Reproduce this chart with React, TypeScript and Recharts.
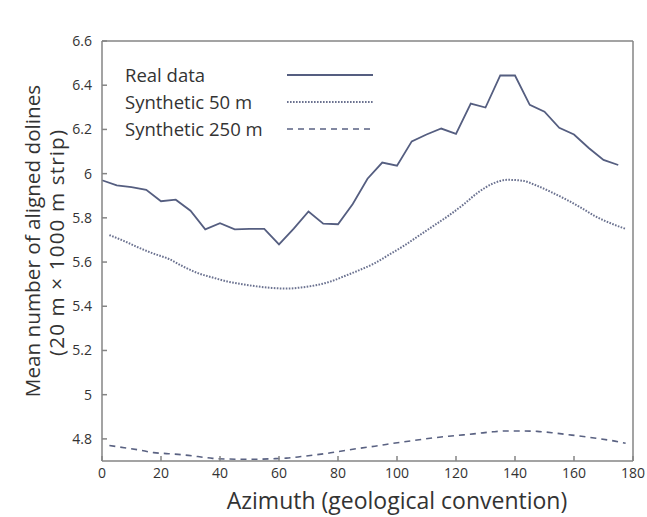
import { Legend, Line, LineChart, XAxis, YAxis } from "recharts";

const realAzimuth = [0, 5, 10, 15, 20, 25, 30, 35, 40, 45, 50, 55, 60, 65, 70, 75, 80, 85, 90, 95, 100, 105, 110, 115, 120, 125, 130, 135, 140, 145, 150, 155, 160, 165, 170, 175];
const realValues = [5.97, 5.947, 5.939, 5.927, 5.875, 5.882, 5.832, 5.748, 5.776, 5.748, 5.75, 5.75, 5.68, 5.751, 5.829, 5.774, 5.771, 5.863, 5.977, 6.05, 6.036, 6.146, 6.177, 6.204, 6.18, 6.317, 6.299, 6.444, 6.444, 6.311, 6.28, 6.207, 6.177, 6.116, 6.062, 6.039];

const synthAzimuth = [2.5, 7.5, 12.5, 17.5, 22.5, 27.5, 32.5, 37.5, 42.5, 47.5, 52.5, 57.5, 62.5, 67.5, 72.5, 77.5, 82.5, 87.5, 92.5, 97.5, 102.5, 107.5, 112.5, 117.5, 122.5, 127.5, 132.5, 137.5, 142.5, 147.5, 152.5, 157.5, 162.5, 167.5, 172.5, 177.5];
const synth50Values = [5.722, 5.695, 5.665, 5.638, 5.615, 5.58, 5.55, 5.53, 5.512, 5.5, 5.49, 5.483, 5.48, 5.485, 5.495, 5.512, 5.538, 5.565, 5.595, 5.635, 5.675, 5.72, 5.765, 5.81, 5.86, 5.915, 5.955, 5.972, 5.968, 5.945, 5.915, 5.882, 5.845, 5.805, 5.775, 5.75];
const synth250Values = [4.77, 4.76, 4.75, 4.738, 4.733, 4.728, 4.72, 4.712, 4.709, 4.708, 4.708, 4.71, 4.713, 4.72, 4.728, 4.737, 4.748, 4.758, 4.767, 4.778, 4.787, 4.796, 4.805, 4.812, 4.818, 4.825, 4.832, 4.836, 4.836, 4.834, 4.828, 4.82, 4.812, 4.803, 4.793, 4.78];

const xTicks = [0, 20, 40, 60, 80, 100, 120, 140, 160, 180];
const yTicks = [4.8, 5, 5.2, 5.4, 5.6, 5.8, 6, 6.2, 6.4, 6.6];

const series = [
  { name: "Real data", color: "#555e80", dash: undefined, width: 1.8 },
  { name: "Synthetic 50 m", color: "#6b7290", dash: "1.6 1.4", width: 2 },
  { name: "Synthetic 250 m", color: "#5a6282", dash: "6 5", width: 1.6 },
];

const realData = realAzimuth.map((az, i) => ({ az, v: realValues[i] }));
const synth50Data = synthAzimuth.map((az, i) => ({ az, v: synth50Values[i] }));
const synth250Data = synthAzimuth.map((az, i) => ({ az, v: synth250Values[i] }));

const frame = "#858585";
const ink = "#333";
const font = "'Open Sans', sans-serif";

function LegendBox() {
  return (
    <div style={{ fontFamily: font, fontSize: 18.5, color: ink }}>
      {series.map((s) => (
        <div key={s.name} style={{ display: "flex", alignItems: "center", height: 27 }}>
          <span style={{ width: 162, whiteSpace: "nowrap" }}>{s.name}</span>
          <svg width={86} height={6}>
            <line x1={0} x2={86} y1={3} y2={3} stroke={s.color} strokeWidth={s.width} strokeDasharray={s.dash} />
          </svg>
        </div>
      ))}
    </div>
  );
}

function YTitle() {
  return (
    <g fill={ink} fontFamily={font} fontSize={20.7}>
      <text x={32} y={241} transform="rotate(-90, 32, 241)" textAnchor="middle" dominantBaseline="central">
        Mean number of aligned dolines
      </text>
      <text
        x={56}
        y={243}
        transform="rotate(-90, 56, 243)"
        textAnchor="middle"
        dominantBaseline="central"
        textLength={226}
        lengthAdjust="spacing"
      >
        (20 m × 1000 m strip)
      </text>
    </g>
  );
}

function XTitle() {
  return (
    <text x={397} y={509} textAnchor="middle" fill={ink} fontFamily={font} fontSize={23}>
      Azimuth (geological convention)
    </text>
  );
}

export default function App() {
  return (
    <div style={{ position: "absolute", left: 0, top: 0, background: "#fff" }}>
      <LineChart width={647} height={517} margin={{ top: 40, right: 13, bottom: 0, left: 0 }} style={{ fontFamily: font }}>
        <XAxis
          xAxisId="b"
          type="number"
          dataKey="az"
          domain={[0, 180]}
          ticks={xTicks}
          height={56}
          tickSize={-5}
          tickMargin={12}
          tick={{ fontSize: 14, fill: ink }}
          stroke={frame}
          strokeWidth={1.5}
          label={<XTitle />}
        />
        <XAxis
          xAxisId="t"
          orientation="top"
          type="number"
          dataKey="az"
          domain={[0, 180]}
          ticks={xTicks}
          height={1}
          tickSize={-5}
          tick={false}
          stroke={frame}
          strokeWidth={1.5}
        />
        <YAxis
          yAxisId="l"
          type="number"
          domain={[4.7, 6.6]}
          ticks={yTicks}
          width={102}
          tickSize={-5}
          tickMargin={15}
          tick={{ fontSize: 14, fill: ink }}
          stroke={frame}
          strokeWidth={1.5}
          label={<YTitle />}
        />
        <YAxis
          yAxisId="r"
          orientation="right"
          type="number"
          domain={[4.7, 6.6]}
          ticks={yTicks}
          width={1}
          tickSize={-5}
          tick={false}
          stroke={frame}
          strokeWidth={1.5}
        />
        <Legend
          layout="vertical"
          align="center"
          verticalAlign="middle"
          wrapperStyle={{ left: 125, top: 61, width: 260 }}
          content={<LegendBox />}
        />
        <Line
          xAxisId="b"
          yAxisId="l"
          data={realData}
          dataKey="v"
          type="linear"
          stroke={series[0].color}
          strokeWidth={series[0].width}
          dot={false}
          isAnimationActive={false}
        />
        <Line
          xAxisId="b"
          yAxisId="l"
          data={synth50Data}
          dataKey="v"
          type="monotone"
          stroke={series[1].color}
          strokeWidth={series[1].width}
          strokeDasharray={series[1].dash}
          dot={false}
          isAnimationActive={false}
        />
        <Line
          xAxisId="b"
          yAxisId="l"
          data={synth250Data}
          dataKey="v"
          type="monotone"
          stroke={series[2].color}
          strokeWidth={series[2].width}
          strokeDasharray={series[2].dash}
          dot={false}
          isAnimationActive={false}
        />
      </LineChart>
    </div>
  );
}
